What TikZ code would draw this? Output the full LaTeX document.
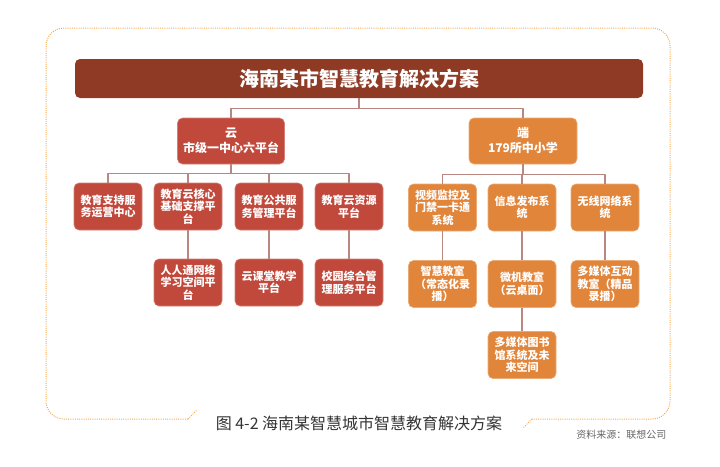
\documentclass[tikz,border=0pt]{standalone}
\usepackage{fontspec}
\setmainfont{Noto Sans CJK SC}
\definecolor{titlered}{HTML}{8F3A25}
\definecolor{cloudred}{HTML}{C0493C}
\definecolor{endorange}{HTML}{E1853B}
\definecolor{linkc}{HTML}{B8877F}
\definecolor{framec}{HTML}{F6A84F}
\tikzset{
  box/.style={rounded corners=5pt,inner sep=0pt,align=center,text=white,minimum width=68pt,minimum height=47pt,font=\fontsize{11}{12.5}\selectfont\bfseries},
  redbox/.style={box,fill=cloudred,draw=cloudred!70!white,line width=.6pt},
  orangebox/.style={box,fill=endorange,draw=endorange!70!white,line width=.6pt},
  link/.style={draw=linkc,line width=1.1pt},
}
\begin{document}
\begin{tikzpicture}[x=1pt,y=-1pt,line join=round]
            \useasboundingbox (0,0) rectangle (720,466);
            \draw[framec,line width=1pt,dash pattern=on 1pt off 1.2pt,rounded corners=18pt]
            (188,419) -- (46,419) -- (46,28) -- (670,28) -- (670,419) -- (532,419)
            ;
            \draw[framec,line width=1pt,dash pattern=on 1pt off 1.2pt]
            (188,419) -- (197,410)
            (532,419) -- (523,428)
            ;
            \node[box,fill=titlered,minimum width=568pt,minimum height=39pt,font=\fontsize{20}{22}\selectfont\bfseries] (title) at (359,78.5) {海南某市智慧教育解决方案};
            \node[redbox,minimum width=107pt,minimum height=46pt,font=\fontsize{12}{15}\selectfont\bfseries] (cloud) at (231,141) {云\\市级一中心六平台};
            \node[orangebox,minimum width=108pt,minimum height=46pt,font=\fontsize{12}{15}\selectfont\bfseries] (end) at (523,141) {端\\179所中小学};
            % cloud side
            \node[redbox] (yunying) at (108,206.5) {教育支持服\\务运营中心};
            \node[redbox] (hexin) at (188,206.5) {教育云核心\\基础支撑平\\台};
            \node[redbox] (gonggong) at (269,206.5) {教育公共服\\务管理平台};
            \node[redbox] (ziyuan) at (349,206.5) {教育云资源\\平台};
            \node[redbox] (renren) at (188,282.5) {人人通网络\\学习空间平\\台};
            \node[redbox] (ketang) at (269,282.5) {云课堂教学\\平台};
            \node[redbox] (xiaoyuan) at (349,282.5) {校园综合管\\理服务平台};
            % end side
            \node[orangebox] (jiankong) at (442.5,207.5) {视频监控及\\门禁一卡通\\系统};
            \node[orangebox] (fabu) at (522,207.5) {信息发布系\\统};
            \node[orangebox] (wuxian) at (605,207.5) {无线网络系\\统};
            \node[orangebox] (zhihui) at (442.5,284) {智慧教室\\（常态化录\\播）};
            \node[orangebox] (weiji) at (522,284) {微机教室\\（云桌面）};
            \node[orangebox] (hudong) at (605,284) {多媒体互动\\教室（精品\\录播）};
            \node[orangebox] (tushu) at (522,355) {多媒体图书\\馆系统及未\\来空间};
            \draw[link]
            (title.south) -- ++(0,10) -| (cloud.north)
            (title.south) -- ++(0,10) -| (end.north)
            (cloud.south) -- ++(0,9) -| (yunying.north)
            (cloud.south) -- ++(0,9) -| (hexin.north)
            (cloud.south) -- ++(0,9) -| (gonggong.north)
            (cloud.south) -- ++(0,9) -| (ziyuan.north)
            (end.south) -- ++(0,10) -| (jiankong.north)
            (end.south) -- ++(0,10) -| (fabu.north)
            (end.south) -- ++(0,10) -| (wuxian.north)
            (hexin) -- (renren) (gonggong) -- (ketang) (ziyuan) -- (xiaoyuan)
            (jiankong) -- (zhihui) (fabu) -- (weiji) (wuxian) -- (hudong) (weiji) -- (tushu)
            ;
            \node[text=black!80,font=\fontsize{16}{18}\selectfont] (caption) at (359,423) {图 4-2 海南某智慧城市智慧教育解决方案};
            \node[anchor=east,text=black!60,font=\fontsize{10}{12}\selectfont] (source) at (670,435) {资料来源：联想公司};
        \end{tikzpicture}
\end{document}
